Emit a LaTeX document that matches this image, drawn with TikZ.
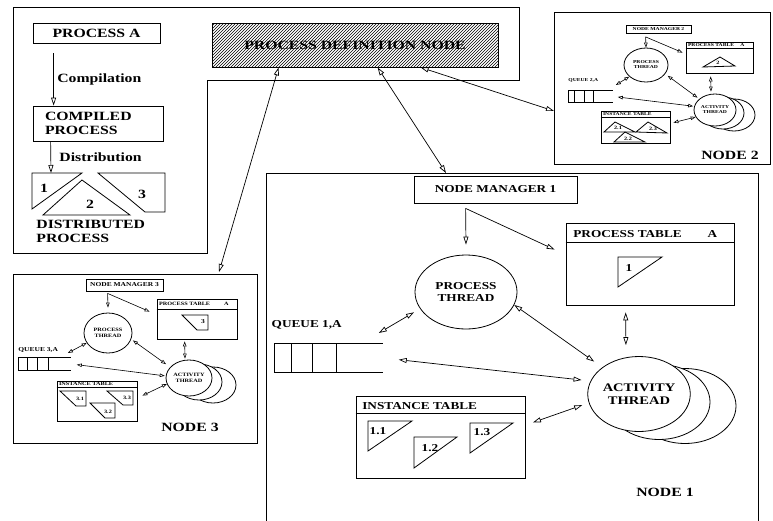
\documentclass[tikz,border=0pt]{standalone}
\usepackage{fontspec}
\setmainfont{Liberation Serif}[FakeStretch=1.25]
\usetikzlibrary{arrows.meta,patterns,shapes.geometric}

\newcommand{\sizeA}{\fontsize{12.6}{14}\selectfont\bfseries}
\newcommand{\sizeB}{\fontsize{10.6}{12.5}\selectfont\bfseries}
\newcommand{\sizeBB}{\fontsize{11.6}{12.5}\selectfont\bfseries}
\newcommand{\sizeC}{\fontsize{6}{6.5}\selectfont\bfseries}
\newcommand{\sizeD}{\fontsize{5}{5.6}\selectfont\bfseries}
\newcommand{\sizeE}{\fontsize{4.5}{5}\selectfont\bfseries}

\tikzset{
  box/.style={draw, line width=0.8pt, inner sep=0pt},
  thread/.style={ellipse, draw, fill=white, line width=0.8pt, inner sep=0pt, align=center},
  arr/.style={line width=0.7pt, -{Triangle[open,length=8pt,width=5pt]}},
  biarr/.style={line width=0.7pt, {Triangle[open,length=8pt,width=5pt]}-{Triangle[open,length=8pt,width=5pt]}},
  smallarr/.style={line width=0.6pt, -{Triangle[open,length=5pt,width=3.5pt]}},
  smallbiarr/.style={line width=0.6pt, {Triangle[open,length=5pt,width=3.5pt]}-{Triangle[open,length=5pt,width=3.5pt]}}
}

\begin{document}
\begin{tikzpicture}[x=1pt,y=-1pt,line width=0.8pt]
\useasboundingbox (0,0) rectangle (773,520);

% process A and its distribution
\draw (13,7) -- (519,7) -- (519,80) -- (207,80) -- (207,253) -- (13,253) -- cycle;
\node[box, minimum width=127pt, minimum height=20pt, font=\sizeA] (procA) at (96.5,33) {PROCESS A};
\node[box, text width=106pt, inner xsep=12pt, minimum height=35pt, align=left, font=\sizeA] (compiled) at (98,123.5) {COMPILED\\PROCESS};
\coordinate (compileA) at ([xshift=21pt,yshift=-10pt]procA.south west);
\coordinate (compileB) at ([xshift=21pt]compiled.north west);
\draw[arr] (compileA) -- node[right, font=\sizeA] (complabel) {Compilation} (compileB);
\coordinate (distA) at ([xshift=18pt]compiled.south west);
\coordinate (distB) at (51,173);
\draw[arr] (distA) -- node[right, xshift=5pt, font=\sizeA] (distlabel) {Distribution} (distB);
\draw (32,173) -- (82,173) -- (32,209) -- cycle;
\draw (82,180) -- (130,215) -- (43,215) -- cycle;
\draw (98,173) -- (165,173) -- (165,212) -- (145,212) -- cycle;
\node[font=\sizeA] (piece1) at (44,188) {1};
\node[font=\sizeA] (piece2) at (90,204) {2};
\node[font=\sizeA] (piece3) at (142,194) {3};
\node[anchor=west, align=left, font=\sizeA, inner sep=0pt] (distproc) at (36,231) {DISTRIBUTED\\PROCESS};

% definition node
\node[box, pattern=north east lines, minimum width=286pt, minimum height=44pt, font=\sizeA] (pdn) at (355,45) {PROCESS DEFINITION NODE};

% the three nodes
\node[box, anchor=north west, minimum width=492pt, minimum height=352pt] (node1) at (266,173) {};
\node[box, anchor=north west, minimum width=216pt, minimum height=152pt] (node2) at (554,12) {};
\node[box, anchor=north west, minimum width=244pt, minimum height=169pt] (node3) at (13,274) {};

\draw[biarr] ([xshift=67pt]pdn.south west) -- ([xshift=206pt,yshift=2pt]node3.north west);
\draw[biarr] ([xshift=166pt]pdn.south west) -- ([xshift=180pt]node1.north west);
\draw[biarr] ([xshift=209pt]pdn.south west) -- ([yshift=-99pt]node2.north west);

% node 1
\node[box, minimum width=163pt, minimum height=27pt, font=\sizeB] (nm1) at (495.5,189.5) {NODE MANAGER 1};
\node[thread, minimum width=102pt, minimum height=74pt, font=\sizeB] (pt1) at (466,292) {PROCESS\\THREAD};
\node[box, minimum width=168pt, minimum height=82pt] (ptab1) at (650,264) {};
\draw ([yshift=-20pt]ptab1.north west) -- ([yshift=-20pt]ptab1.north east);
\node[anchor=west, font=\sizeB] (ptab1head) at ([xshift=4pt,yshift=-11pt]ptab1.north west) {PROCESS TABLE};
\node[font=\sizeB] (ptab1key) at ([xshift=-22pt,yshift=-11pt]ptab1.north east) {A};
\draw (618,257) -- (662,257) -- (618,287) -- cycle;
\node[font=\sizeB] (inst1) at (629,268) {1};

\node[inner sep=0pt, minimum width=108pt, minimum height=29pt, anchor=north west] (q1) at (274,343) {};
\draw (q1.north east) -- (q1.north west) -- (q1.south west) -- (q1.south east);
\foreach \dx in {17,38,62} \draw ([xshift=\dx pt]q1.north west) -- ([xshift=\dx pt]q1.south west);
\node[anchor=west, font=\sizeB] (q1label) at (268,325) {QUEUE 1,A};

\node[thread, minimum width=102pt, minimum height=75pt] (at1c) at (685,406) {};
\node[thread, minimum width=102pt, minimum height=75pt] (at1b) at (659,402) {};
\node[thread, minimum width=102pt, minimum height=75pt, font=\sizeBB] (at1) at (639,394) {ACTIVITY\\THREAD};

\node[box, minimum width=169pt, minimum height=82pt] (it1) at (440.5,437) {};
\draw ([yshift=-18pt]it1.north west) -- ([yshift=-18pt]it1.north east);
\node[anchor=west, font=\sizeB] (it1head) at ([xshift=3pt,yshift=-10pt]it1.north west) {INSTANCE TABLE};
\draw (368,421) -- (412,421) -- (368,451) -- cycle;
\draw (414,437) -- (457,437) -- (414,468) -- cycle;
\draw (470,423) -- (513,423) -- (470,453) -- cycle;
\node[font=\sizeB] (inst11) at (378,431) {1.1};
\node[font=\sizeB] (inst12) at (430,448) {1.2};
\node[font=\sizeB] (inst13) at (482,432) {1.3};
\node[font=\sizeA] (node1label) at (665,492) {NODE 1};

\coordinate (nm1out) at ([xshift=52pt,yshift=-5pt]nm1.south west);
\coordinate (pt1top) at ([yshift=10pt]pt1.north);
\draw[arr] (nm1out) -- (pt1top);
\draw[arr] (nm1out) -- ([xshift=-11pt,yshift=-27pt]ptab1.north west);
\draw[biarr, shorten >=10pt] (pt1.-15) -- (at1.144);
\draw[biarr, shorten <=7pt, shorten >=11pt] ([xshift=60pt]ptab1.south west) -- ([xshift=-13pt]at1.north);
\draw[biarr, shorten <=7pt] (pt1.200) -- ([xshift=-4pt,yshift=10pt]q1.north east);
\draw[biarr, shorten <=16pt, shorten >=9pt] (q1.east) -- (at1.165);
\draw[biarr, shorten <=8pt, shorten >=7pt] (it1.8) -- (at1.190);

% node 2
\node[box, minimum width=65pt, minimum height=8pt, font=\sizeE] (nm2) at (658.5,29.5) {NODE MANAGER 2};
\node[thread, minimum width=44pt, minimum height=34pt, font=\sizeE] (pt2) at (646,65) {PROCESS\\THREAD};
\node[box, minimum width=67pt, minimum height=31pt] (ptab2) at (719.5,57.5) {};
\draw ([yshift=-7pt]ptab2.north west) -- ([yshift=-7pt]ptab2.north east);
\node[anchor=west, font=\sizeE, inner sep=1pt] (ptab2head) at ([xshift=1pt,yshift=-3.5pt]ptab2.north west) {PROCESS TABLE};
\node[font=\sizeE, inner sep=1pt] (ptab2key) at ([xshift=-11pt,yshift=-3.5pt]ptab2.north east) {A};
\draw (703,67) -- (720,57) -- (735,66) -- cycle;
\node[font=\sizeD] (inst2) at (718,63) {2};

\node[inner sep=0pt, minimum width=44pt, minimum height=12pt, anchor=north west] (q2) at (568,90) {};
\draw (q2.north east) -- (q2.north west) -- (q2.south west) -- (q2.south east);
\foreach \dx in {6,16,25} \draw ([xshift=\dx pt]q2.north west) -- ([xshift=\dx pt]q2.south west);
\node[anchor=west, font=\sizeE, inner sep=0pt] (q2label) at (568,80) {QUEUE 2,A};

\node[thread, minimum width=42pt, minimum height=32pt] (at2c) at (734,115) {};
\node[thread, minimum width=42pt, minimum height=32pt] (at2b) at (723,113) {};
\node[thread, minimum width=42pt, minimum height=32pt, font=\sizeE] (at2) at (715,110) {ACTIVITY\\THREAD};

\node[box, minimum width=69pt, minimum height=32pt] (it2) at (635.5,127) {};
\draw ([yshift=-7pt]it2.north west) -- ([yshift=-7pt]it2.north east);
\node[anchor=west, font=\sizeE, inner sep=1pt] (it2head) at ([xshift=1pt,yshift=-3.5pt]it2.north west) {INSTANCE TABLE};
\draw (604,132) -- (615,122) -- (635,132) -- cycle;
\draw (636,132) -- (648,122) -- (667,133) -- cycle;
\draw (614,142) -- (625,132) -- (645,142) -- cycle;
\node[font=\sizeD] (inst21) at (618,128) {2.1};
\node[font=\sizeD] (inst23) at (653,129) {2.3};
\node[font=\sizeD] (inst22) at (628,139) {2.2};
\node[font=\sizeA] (node2label) at (730,155) {NODE 2};

\coordinate (nm2out) at ([xshift=20pt,yshift=-3pt]nm2.south west);
\draw[smallarr] (nm2out) -- (pt2.north);
\draw[smallarr] (nm2out) -- ([xshift=-3pt,yshift=-11pt]ptab2.north west);
\draw[smallbiarr, shorten <=3pt, shorten >=2pt] ([xshift=25pt]ptab2.south west) -- ([xshift=-4pt]at2.north);
\draw[smallbiarr, shorten <=3pt, shorten >=2pt] (pt2.-25) -- (at2.145);
\draw[smallbiarr] (pt2.215) -- ([xshift=3pt,yshift=5pt]q2.north east);
\draw[smallbiarr, shorten <=5pt, shorten >=1pt] (q2.east) -- (at2.170);
\draw[smallbiarr] (at2.200) -- ([xshift=3pt,yshift=-12pt]it2.north east);

% node 3
\node[box, minimum width=77pt, minimum height=12pt, font=\sizeC] (nm3) at (124.5,285) {NODE MANAGER 3};
\node[thread, minimum width=48pt, minimum height=40pt, font=\sizeD] (pt3) at (108,333) {PROCESS\\THREAD};
\node[box, minimum width=80pt, minimum height=40pt] (ptab3) at (197,319) {};
\draw ([yshift=-11pt]ptab3.north west) -- ([yshift=-11pt]ptab3.north east);
\node[anchor=west, font=\sizeD, inner sep=1pt] (ptab3head) at ([xshift=1pt,yshift=-5.5pt]ptab3.north west) {PROCESS TABLE};
\node[font=\sizeD, inner sep=1pt] (ptab3key) at ([xshift=-11pt,yshift=-5.5pt]ptab3.north east) {A};
\draw (182,315) -- (208,315) -- (208,330) -- (197,330) -- cycle;
\node[font=\sizeC] (inst3) at (203,322) {3};

\node[inner sep=0pt, minimum width=52pt, minimum height=13pt, anchor=north west] (q3) at (18,357) {};
\draw (q3.north east) -- (q3.north west) -- (q3.south west) -- (q3.south east);
\foreach \dx in {9,19,30} \draw ([xshift=\dx pt]q3.north west) -- ([xshift=\dx pt]q3.south west);
\node[anchor=west, font=\sizeC, inner sep=0pt] (q3label) at (18,350) {QUEUE 3,A};

\node[thread, minimum width=46pt, minimum height=36pt] (at3c) at (213,385) {};
\node[thread, minimum width=46pt, minimum height=36pt] (at3b) at (199,382) {};
\node[thread, minimum width=46pt, minimum height=36pt, font=\sizeD] (at3) at (189,378) {ACTIVITY\\THREAD};

\node[box, minimum width=80pt, minimum height=40pt] (it3) at (97,401) {};
\draw ([yshift=-7pt]it3.north west) -- ([yshift=-7pt]it3.north east);
\node[anchor=west, font=\sizeD, inner sep=1pt] (it3head) at ([xshift=1pt,yshift=-3.5pt]it3.north west) {INSTANCE TABLE};
\draw (60,391) -- (86,391) -- (86,406) -- (76,406) -- cycle;
\draw (90,403) -- (115,403) -- (115,418) -- (105,418) -- cycle;
\draw (107,391) -- (133,391) -- (133,405) -- (123,405) -- cycle;
\node[font=\sizeD] (inst31) at (80,399) {3.1};
\node[font=\sizeD] (inst32) at (108,412) {3.2};
\node[font=\sizeD] (inst33) at (127,398) {3.3};
\node[font=\sizeA] (node3label) at (190,427) {NODE 3};

\coordinate (nm3out) at ([xshift=22pt,yshift=-2pt]nm3.south west);
\draw[smallarr] (nm3out) -- ([yshift=5pt]pt3.north);
\draw[smallarr] (nm3out) -- ([xshift=-7pt,yshift=-13pt]ptab3.north west);
\draw[smallbiarr, shorten <=2pt, shorten >=1pt] ([xshift=28pt]ptab3.south west) -- ([xshift=-4pt]at3.north);
\draw[smallbiarr, shorten <=2pt, shorten >=5pt] (pt3.-15) -- (at3.150);
\draw[smallbiarr] (pt3.205) -- ([xshift=-3pt,yshift=4pt]q3.north east);
\draw[smallbiarr, shorten <=6pt, shorten >=1pt] (q3.east) -- (at3.175);
\draw[smallbiarr] (at3.195) -- ([xshift=5pt,yshift=-15pt]it3.north east);
\end{tikzpicture}
\end{document}
